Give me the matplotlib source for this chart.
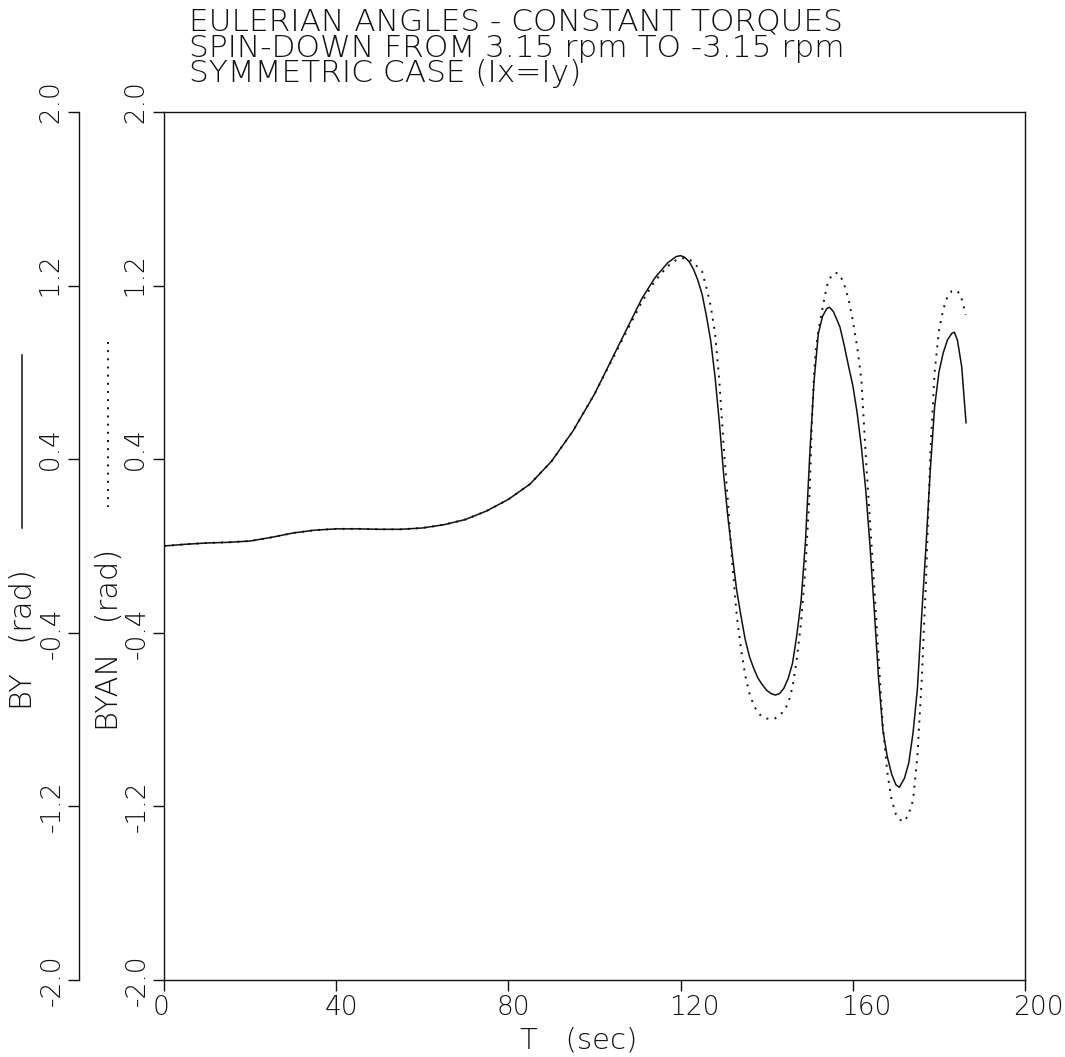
import matplotlib
matplotlib.use("Agg")
import matplotlib.pyplot as plt
from matplotlib.lines import Line2D
from matplotlib.transforms import ScaledTranslation

# ---- data -------------------------------------------------------------
t_by = [0, 5, 10, 15, 20, 25, 30, 35, 40, 45, 50, 55, 60, 65, 70, 75, 80, 85,
        90, 95, 100, 104, 108, 111, 114, 117, 119, 120, 121, 122, 123, 124,
        125, 126, 127, 128, 129, 130, 131, 132, 133, 134, 135, 136, 137, 138,
        139, 140, 141, 142, 143, 144, 145, 146, 147, 148, 149, 150, 151, 152,
        153, 154, 154.6, 155.5, 157, 158, 159, 160, 161, 162, 163, 164, 165,
        166, 167, 168, 169, 170, 170.8, 172, 173, 174, 175, 176, 177, 178,
        179, 180, 181, 182, 183, 183.6, 184.3, 185.3, 186.3]
by = [0.000, 0.008, 0.014, 0.017, 0.023, 0.040, 0.060, 0.073, 0.079, 0.079,
      0.077, 0.077, 0.083, 0.098, 0.122, 0.162, 0.215, 0.285, 0.390, 0.530,
      0.700, 0.860, 1.020, 1.140, 1.235, 1.305, 1.334, 1.338, 1.330, 1.310,
      1.275, 1.225, 1.160, 1.060, 0.945, 0.780, 0.570, 0.330, 0.130, -0.040,
      -0.200, -0.320, -0.430, -0.510, -0.565, -0.610, -0.640, -0.665, -0.680,
      -0.687, -0.680, -0.655, -0.610, -0.540, -0.410, -0.250, 0.020, 0.420,
      0.760, 0.980, 1.060, 1.095, 1.100, 1.080, 1.010, 0.925, 0.830, 0.740,
      0.615, 0.455, 0.260, 0.000, -0.300, -0.615, -0.850, -0.970, -1.050,
      -1.100, -1.112, -1.070, -1.000, -0.860, -0.660, -0.320, 0.000, 0.350,
      0.640, 0.800, 0.890, 0.950, 0.980, 0.985, 0.949, 0.826, 0.568]

t_byan = [0, 5, 10, 15, 20, 25, 30, 35, 40, 45, 50, 55, 60, 65, 70, 75, 80,
          85, 90, 95, 100, 104, 108, 111, 114, 117, 119, 120, 121, 122, 123,
          124, 125, 126, 127, 128, 129, 130, 131, 132, 133, 134, 135, 136, 137,
          138, 139, 140, 141, 142, 143, 144, 145, 146, 147, 148, 149, 150,
          150.5, 151, 151.5, 152, 153, 154, 155, 156, 157, 158, 159, 160, 161,
          162, 163, 164, 165, 166, 167, 168, 169, 170, 171, 172, 173, 174, 175,
          176, 177, 178, 179, 180, 181, 182, 183, 184, 185, 186, 186.2]
byan = [0.000, 0.008, 0.014, 0.017, 0.023, 0.040, 0.060, 0.073, 0.079, 0.079,
        0.077, 0.077, 0.083, 0.098, 0.122, 0.162, 0.215, 0.285, 0.390, 0.530,
        0.700, 0.855, 1.010, 1.125, 1.220, 1.290, 1.318, 1.325, 1.327, 1.322,
        1.305, 1.285, 1.265, 1.190, 1.105, 0.980, 0.760, 0.460, 0.200, -0.080,
        -0.310, -0.470, -0.595, -0.680, -0.735, -0.770, -0.787, -0.795,
        -0.797, -0.794, -0.780, -0.760, -0.725, -0.650, -0.520, -0.350,
        -0.100, 0.260, 0.570, 0.800, 0.920, 0.990, 1.100, 1.200, 1.245, 1.260,
        1.250, 1.205, 1.140, 1.040, 0.920, 0.765, 0.420, 0.110, -0.190,
        -0.520, -0.840, -1.040, -1.170, -1.235, -1.262, -1.270, -1.235,
        -1.170, -0.970, -0.620, -0.160, 0.420, 0.800, 0.990, 1.090, 1.150,
        1.175, 1.178, 1.160, 1.085, 1.065]

x_ticks = [0, 40, 80, 120, 160, 200]
x_tick_labels = ["0", "40", "80", "120", "160", "200"]
y_ticks = [-2.0, -1.2, -0.4, 0.4, 1.2, 2.0]
y_tick_labels = ["-2.0", "-1.2", "-0.4", "  0.4", "  1.2", "  2.0"]

title_lines = ["EULERIAN ANGLES - CONSTANT TORQUES",
               "SPIN-DOWN FROM 3.15 rpm TO -3.15 rpm",
               "SYMMETRIC CASE (Ix=Iy)"]
x_label = "T   (sec)"
by_label = "BY   (rad)"
byan_label = "BYAN   (rad)"

# ---- layout -----------------------------------------------------------
W, H = 1065, 1057
INK = "#111111"
plt.rcParams["font.family"] = ["DejaVu Sans"]
plt.rcParams["font.weight"] = 200

fig = plt.figure(figsize=(W / 100, H / 100), dpi=100)


def fx(x):
    return x / W


def fy(y):
    return 1 - y / H


left, right, top, bottom = 164, 1025, 112, 980
ax = fig.add_axes([fx(left), fy(bottom), (right - left) / W, (bottom - top) / H])
ax.set_xlim(0, 200)
ax.set_ylim(-2.0, 2.0)

ax.plot(t_by, by, color=INK, lw=1.1, solid_joinstyle="round", zorder=3)
ax.plot(t_byan, byan, color=INK, lw=1.4, linestyle=(0, (1, 3.2)), zorder=3)

for s in ax.spines.values():
    s.set_linewidth(1.0)
    s.set_color(INK)

TICK_FS = 19
ax.set_xticks(x_ticks)
ax.set_xticklabels(x_tick_labels, fontsize=TICK_FS, ha="left")
ax.tick_params(axis="x", direction="out", length=8, width=1.0, pad=3,
               colors=INK)
shift = ScaledTranslation(-11.5 / 100, 0, fig.dpi_scale_trans)
for lab in ax.get_xticklabels():
    lab.set_transform(lab.get_transform() + shift)

ax.set_yticks(y_ticks)
ax.set_yticklabels(y_tick_labels, fontsize=TICK_FS, rotation=90, va="center",
                   ha="right")
ax.tick_params(axis="y", direction="out", length=8, width=1.0, pad=2,
               colors=INK)

# second (BYAN) ordinate axis drawn on the left
ax2 = fig.add_axes([fx(79), fy(bottom), 1 / W, (bottom - top) / H])
ax2.set_ylim(-2.0, 2.0)
ax2.set_xticks([])
ax2.patch.set_visible(False)
for k in ("top", "right", "bottom"):
    ax2.spines[k].set_visible(False)
ax2.spines["left"].set_linewidth(1.0)
ax2.spines["left"].set_color(INK)
ax2.set_yticks(y_ticks)
ax2.set_yticklabels(y_tick_labels, fontsize=TICK_FS, rotation=90, va="center",
                    ha="right")
ax2.tick_params(axis="y", direction="out", length=8, width=1.0, pad=2,
                colors=INK)

# three-line heading as one block
fig.text(fx(189), fy(8), "\n".join(title_lines), fontsize=22.5, ha="left",
         va="top", linespacing=0.85, color=INK)

# axis labels
fig.text(fx(520), fy(1049), x_label, fontsize=21, ha="left",
         va="baseline", color=INK)
fig.text(fx(23), fy(640), by_label, fontsize=22, rotation=90, ha="center",
         va="center", color=INK)
fig.text(fx(110), fy(640), byan_label, fontsize=22, rotation=90,
         ha="center", va="center", color=INK)

# line keys next to the ordinate labels
fig.add_artist(Line2D([fx(22), fx(22)], [fy(355), fy(528)], color=INK,
                      lw=1.1, transform=fig.transFigure))
fig.add_artist(Line2D([fx(108), fx(108)], [fy(342), fy(507)], color=INK,
                      lw=1.4, linestyle=(0, (1, 3.2)),
                      transform=fig.transFigure))

fig.savefig("out.png", dpi=100, facecolor="white")
